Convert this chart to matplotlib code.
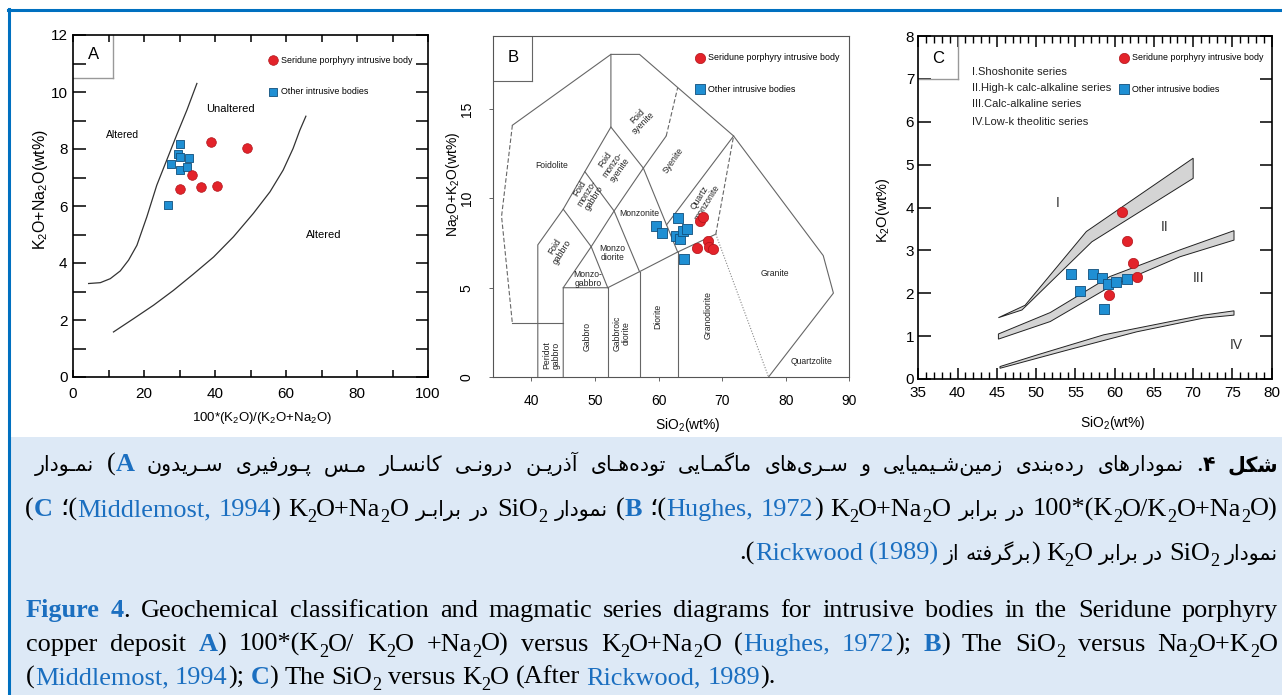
import matplotlib
matplotlib.use('Agg')
import matplotlib.pyplot as plt
from matplotlib.transforms import IdentityTransform
from matplotlib import font_manager as fm
from matplotlib.patches import Rectangle, Polygon
from matplotlib.lines import Line2D

# ---------------- DATA ----------------
# Panel A (Hughes, 1972)
a_red_x = [38.9, 48.9, 33.6, 30.2, 36.1, 40.5]
a_red_y = [8.25, 8.04, 7.10, 6.58, 6.67, 6.70]
a_blue_x = [30.2, 29.7, 27.6, 30.2, 32.7, 30.2, 32.1, 26.9]
a_blue_y = [8.17, 7.84, 7.49, 7.73, 7.67, 7.26, 7.38, 6.03]
a_left_x = [4.4, 7.7, 10.5, 13.3, 15.65, 18.0, 20.8, 23.6, 26.4, 29.2, 32.1, 34.9]
a_left_y = [3.28, 3.31, 3.45, 3.72, 4.10, 4.62, 5.62, 6.73, 7.61, 8.49, 9.37, 10.30]
a_right_x = [11.4, 17.1, 22.7, 28.3, 33.9, 39.6, 45.2, 50.8, 55.5, 59.2, 62.0, 63.9, 65.6]
a_right_y = [1.58, 2.05, 2.52, 3.04, 3.61, 4.21, 4.92, 5.74, 6.50, 7.26, 8.02, 8.66, 9.15]
a_xticks = list(range(0, 101, 10))
a_xlabels = ['0', '', '20', '', '40', '', '60', '', '80', '', '100']
a_yticks = list(range(0, 13))
a_ylabels = [str(v) if v % 2 == 0 else '' for v in a_yticks]

# Panel B (Middlemost, 1994)
b_red_x = [66.5, 67.0, 66.1, 67.7, 67.9, 68.5]
b_red_y = [8.71, 8.95, 7.21, 7.64, 7.30, 7.15]
b_blue_x = [59.6, 60.5, 63.0, 62.7, 63.4, 63.9, 64.5, 64.0]
b_blue_y = [8.43, 8.09, 8.93, 7.90, 7.72, 8.15, 8.28, 6.59]
b_solid = [
    [(37, 14.1), (52.5, 18.07), (57, 18.07), (71.8, 13.5), (85.9, 6.8), (87.5, 4.7), (77.3, 0)],
    [(37, 3), (45, 3)],
    [(41, 0), (41, 7.4), (45, 9.4), (48.4, 11.5), (52.5, 14), (52.5, 18.07)],
    [(45, 0), (45, 5), (52, 5), (57, 5.9), (63, 7), (69, 8)],
    [(52, 0), (52, 5)],
    [(57, 0), (57, 5.9)],
    [(63, 0), (63, 7)],
    [(45, 5), (49.4, 7.3), (45, 9.4)],
    [(49.4, 7.3), (52, 5)],
    [(48.4, 11.5), (53, 9.3), (57, 5.9)],
    [(49.4, 7.3), (53, 9.3), (57.6, 11.7)],
    [(52.5, 14), (57.6, 11.7), (63, 7)],
    [(61.25, 8.52), (71.8, 13.5)],
    [(57.6, 11.7), (61.2, 13.5)],
]
b_dashed = [
    [(37, 14.1), (35.3, 9.0), (37, 3)],
    [(61.2, 13.5), (63.0, 16.2)],
    [(69, 8), (71.8, 13.5)],
]
b_dotted = [[(69, 8), (77.3, 0)]]
b_labels = [
    ('Foidolite', 43.15, 11.85, 0),
    ('Foid\ngabbro', 44.2, 7.15, 58),
    ('Foid\nmonzo-\ngabbro', 48.7, 10.3, 58),
    ('Foid\nmonzo-\nsyenite', 52.7, 11.9, 55),
    ('Foid\nsyenite', 57.1, 14.4, 45),
    ('Syenite', 62.3, 12.1, 55),
    ('Monzonite', 56.95, 9.14, 0),
    ('Quartz\nmonzonite', 67.0, 9.9, 58),
    ('Monzo\ndiorite', 52.75, 6.93, 0),
    ('Monzo-\ngabbro', 48.9, 5.5, 0),
    ('Peridot\ngabbro', 43.1, 1.2, 90),
    ('Gabbro', 48.8, 2.25, 90),
    ('Gabbroic\ndiorite', 54.2, 2.45, 90),
    ('Diorite', 59.9, 3.4, 90),
    ('Granodiorite', 67.8, 3.45, 90),
    ('Granite', 78.3, 5.8, 0),
    ('Quartzolite', 84.1, 0.85, 0),
]
b_xticks = [40, 50, 60, 70, 80, 90]
b_yticks = [0, 5, 10, 15]

# Panel C (Rickwood, 1989)
c_red_x = [60.9, 61.6, 62.3, 62.9, 59.3]
c_red_y = [3.90, 3.23, 2.70, 2.39, 1.96]
c_blue_x = [54.4, 55.6, 57.3, 58.4, 59.2, 60.2, 61.6, 58.7]
c_blue_y = [2.46, 2.05, 2.45, 2.35, 2.21, 2.27, 2.33, 1.63]
c_b1_up_x = [45.2, 48.6, 56.4, 70.0]
c_b1_up_y = [1.43, 1.72, 3.44, 5.15]
c_b1_lo_x = [45.2, 48.2, 57.1, 70.0]
c_b1_lo_y = [1.43, 1.61, 3.20, 4.68]
c_b2_up_x = [45.2, 51.8, 59.4, 68.3, 75.2]
c_b2_up_y = [1.05, 1.55, 2.39, 3.01, 3.46]
c_b2_lo_x = [45.2, 51.8, 59.4, 68.3, 75.2]
c_b2_lo_y = [0.93, 1.34, 2.15, 2.85, 3.24]
c_b3_up_x = [45.4, 50.1, 58.6, 67.1, 71.3, 75.2]
c_b3_up_y = [0.29, 0.56, 1.03, 1.34, 1.49, 1.59]
c_b3_lo_x = [45.4, 54.3, 62.8, 71.3, 75.2]
c_b3_lo_y = [0.25, 0.69, 1.10, 1.42, 1.49]
c_series = ['I.Shoshonite series', 'II.High-k calc-alkaline series',
            'III.Calc-alkaline series', 'IV.Low-k theolitic series']
c_xticks = list(range(35, 81, 5))
c_yticks = list(range(0, 9))

legend_labels = ['Seridune porphyry intrusive body', 'Other intrusive bodies']

# ---------------- STYLE ----------------
RED = '#e3232a'
RED_E = '#b0141a'
BLU = '#1f8fd3'
BLU_E = '#114f7c'
FRAME = '#0070c0'
REF = '#1b6fc0'
CAPBG = '#dde9f6'

names = {f.name for f in fm.fontManager.ttflist}
if 'Liberation Sans Narrow' in names:
    NAR = dict(family='Liberation Sans Narrow')
    NS = 1.2
else:
    NAR = dict(family='Liberation Sans')
    NS = 1.0

plt.rcParams['mathtext.default'] = 'regular'
plt.rcParams['font.family'] = NAR['family']

W, H = 1282, 695
fig = plt.figure(figsize=(W / 100, H / 100), dpi=100)
fig.patch.set_facecolor('white')
ID = IdentityTransform()

# caption background and frame
fig.patches.append(Rectangle((10, 0), W - 10, 258, transform=ID, facecolor=CAPBG, edgecolor='none', zorder=0))
fig.add_artist(Line2D([8, W], [685, 685], transform=ID, color=FRAME, lw=2.2))
fig.add_artist(Line2D([9, 9], [0, 686], transform=ID, color=FRAME, lw=2.2))


def ax_rect(x0, y0top, x1, y1top):
    return [x0 / W, (H - y1top) / H, (x1 - x0) / W, (y1top - y0top) / H]


def style_ticklabels(ax, size):
    for lab in ax.get_xticklabels() + ax.get_yticklabels():
        lab.set_family(NAR['family'])
        lab.set_fontsize(size)


def add_legend(ax, h1, h2, fx, fy):
    ax.legend([h1, h2], legend_labels, loc='upper left', bbox_to_anchor=(fx, fy),
              frameon=False, borderpad=0, borderaxespad=0, handlelength=1.2,
              handletextpad=0.3, labelspacing=2.55, scatterpoints=1,
              prop=dict(size=6.4 * NS, **NAR))


def figtext(x, ytop, s, **kw):
    fig.text(x, H - ytop, s, transform=ID, **kw)


# ---------------- PANEL A ----------------
axA = fig.add_axes(ax_rect(73, 35, 428, 377))
axA.set_xlim(0, 100)
axA.set_ylim(0, 12)
axA.plot(a_left_x, a_left_y, color='#333333', lw=0.9)
axA.plot(a_right_x, a_right_y, color='#333333', lw=0.9)
hA2 = axA.scatter(a_blue_x, a_blue_y, marker='s', s=38, c=BLU, edgecolors=BLU_E, linewidths=0.6, zorder=3)
hA1 = axA.scatter(a_red_x, a_red_y, marker='o', s=48, c=RED, edgecolors=RED_E, linewidths=0.5, zorder=4)
axA.set_xticks(a_xticks)
axA.set_xticklabels(a_xlabels)
axA.set_yticks(a_yticks)
axA.set_yticklabels(a_ylabels)
axA.tick_params(axis='x', direction='in', length=5, width=1.1, top=True, pad=7)
axA.tick_params(axis='y', direction='in', length=9, width=1.1, right=True, pad=4)
style_ticklabels(axA, 11)
for sp in axA.spines.values():
    sp.set_linewidth(1.2)
axA.plot([11.2, 11.2], [10.5, 12], color='#999999', lw=1)
axA.plot([0, 11.2], [10.5, 10.5], color='#999999', lw=1)
axA.text(5.8, 11.3, 'A', ha='center', va='center', fontsize=12, **NAR)
axA.text(13.9, 8.5, 'Altered', ha='center', va='center', fontsize=7.5 * NS, **NAR)
axA.text(44.3, 9.4, 'Unaltered', ha='center', va='center', fontsize=8 * NS, **NAR)
axA.text(70.5, 5.0, 'Altered', ha='center', va='center', fontsize=8 * NS, **NAR)
add_legend(axA, hA1, hA2, 0.548, 0.94)
figtext(40, 190, r'K$_2$O+Na$_2$O(wt%)', rotation=90, ha='center', va='center', fontsize=11.5, **NAR)
figtext(262, 418, r'100*(K$_2$O)/(K$_2$O+Na$_2$O)', ha='center', va='center', fontsize=9.5 * NS, **NAR)

# ---------------- PANEL B ----------------
axB = fig.add_axes(ax_rect(493.3, 36, 849.3, 377))
axB.set_xlim(34, 90)
axB.set_ylim(0, 19.1)
for seg in b_solid:
    axB.plot([p[0] for p in seg], [p[1] for p in seg], color='#666666', lw=0.8)
for seg in b_dashed:
    axB.plot([p[0] for p in seg], [p[1] for p in seg], color='#666666', lw=0.8, ls=(0, (4, 2)))
for seg in b_dotted:
    axB.plot([p[0] for p in seg], [p[1] for p in seg], color='#888888', lw=0.8, ls=(0, (1, 1.5)))
for txt, x, y, rot in b_labels:
    axB.text(x, y, txt, rotation=rot, ha='center', va='center', fontsize=6.2,
             linespacing=1.0, color='#222222', **NAR)
hB2 = axB.scatter(b_blue_x, b_blue_y, marker='s', s=45, c=BLU, edgecolors=BLU_E, linewidths=0.6, zorder=3)
hB1 = axB.scatter(b_red_x, b_red_y, marker='o', s=55, c=RED, edgecolors=RED_E, linewidths=0.5, zorder=4)
axB.set_xticks(b_xticks)
axB.set_yticks(b_yticks)
axB.tick_params(axis='both', direction='out', length=3, width=0.7, color='#666666', pad=9)
axB.tick_params(axis='y', pad=11)
style_ticklabels(axB, 10)
for lab in axB.get_yticklabels():
    lab.set_rotation(90)
    lab.set_va('center')
for sp in axB.spines.values():
    sp.set_linewidth(0.8)
    sp.set_color('#555555')
axB.plot([34, 40.14], [16.6, 16.6], color='#666666', lw=0.8)
axB.plot([40.14, 40.14], [16.6, 19.1], color='#666666', lw=0.8)
axB.text(37.05, 17.9, 'B', ha='center', va='center', fontsize=12, **NAR)
add_legend(axB, hB1, hB2, 0.566, 0.95)
figtext(453, 184, r'Na$_2$O+K$_2$O(wt%)', rotation=90, ha='center', va='center', fontsize=10, **NAR)
figtext(688, 425, r'SiO$_2$(wt%)', ha='center', va='center', fontsize=10, **NAR)

# ---------------- PANEL C ----------------
axC = fig.add_axes(ax_rect(918.3, 36, 1271.7, 379))
axC.set_xlim(35, 80)
axC.set_ylim(0, 8)
for ux, uy, lx, ly in [(c_b1_up_x, c_b1_up_y, c_b1_lo_x, c_b1_lo_y),
                       (c_b2_up_x, c_b2_up_y, c_b2_lo_x, c_b2_lo_y),
                       (c_b3_up_x, c_b3_up_y, c_b3_lo_x, c_b3_lo_y)]:
    pts = list(zip(ux, uy)) + list(zip(lx[::-1], ly[::-1]))
    axC.add_patch(Polygon(pts, closed=True, facecolor='#d4d4d4', edgecolor='#222222', lw=0.7))
hC2 = axC.scatter(c_blue_x, c_blue_y, marker='s', s=50, c=BLU, edgecolors=BLU_E, linewidths=0.6, zorder=3)
hC1 = axC.scatter(c_red_x, c_red_y, marker='o', s=55, c=RED, edgecolors=RED_E, linewidths=0.5, zorder=4)
axC.set_xticks(c_xticks)
axC.set_xticks(list(range(35, 81)), minor=True)
axC.set_yticks(c_yticks)
axC.tick_params(axis='x', which='major', direction='in', length=8, width=1.1, top=True, pad=5)
axC.tick_params(axis='x', which='minor', direction='in', length=5, width=1.0, top=True)
axC.tick_params(axis='y', direction='in', length=9, width=1.1, right=True, pad=3)
style_ticklabels(axC, 11)
for sp in axC.spines.values():
    sp.set_linewidth(1.2)
axC.plot([40.0, 40.0], [6.99, 8], color='#999999', lw=1)
axC.plot([35, 40.0], [6.99, 6.99], color='#999999', lw=1)
axC.text(37.5, 7.48, 'C', ha='center', va='center', fontsize=12, **NAR)
for i, s in enumerate(c_series):
    axC.text(41.8, [7.17, 6.78, 6.42, 6.0][i], s, ha='left', va='center', fontsize=8.0 * NS,
             color='#222222', **NAR)
axC.text(52.8, 4.1, 'I', ha='center', va='center', fontsize=10, color='#333333', **NAR)
axC.text(66.4, 3.55, 'II', ha='center', va='center', fontsize=10, color='#333333', **NAR)
axC.text(70.7, 2.35, 'III', ha='center', va='center', fontsize=10, color='#333333', **NAR)
axC.text(75.5, 0.79, 'IV', ha='center', va='center', fontsize=10, color='#333333', **NAR)
add_legend(axC, hC1, hC2, 0.566, 0.95)
figtext(883, 210, r'K$_2$O(wt%)', rotation=90, ha='center', va='center', fontsize=10.5, **NAR)
figtext(1113, 423, r'SiO$_2$(wt%)', ha='center', va='center', fontsize=10, **NAR)

# ---------------- CAPTIONS ----------------
_D = {'\u0628': 0xFE8F, '\u062A': 0xFE95, '\u062B': 0xFE99, '\u062C': 0xFE9D, '\u062D': 0xFEA1,
      '\u062E': 0xFEA5, '\u0633': 0xFEB1, '\u0634': 0xFEB5, '\u0635': 0xFEB9, '\u0636': 0xFEBD,
      '\u0637': 0xFEC1, '\u0638': 0xFEC5, '\u0639': 0xFEC9, '\u063A': 0xFECD, '\u0641': 0xFED1,
      '\u0642': 0xFED5, '\u0644': 0xFEDD, '\u0645': 0xFEE1, '\u0646': 0xFEE5, '\u0647': 0xFEE9,
      '\u0626': 0xFE89, '\u067E': 0xFB56, '\u0686': 0xFB7A, '\u06A9': 0xFB8E, '\u06AF': 0xFB92,
      '\u06CC': 0xFBFC}
_R = {'\u0627': 0xFE8D, '\u0622': 0xFE81, '\u062F': 0xFEA9, '\u0630': 0xFEAB, '\u0631': 0xFEAD,
      '\u0632': 0xFEAF, '\u0648': 0xFEED, '\u0698': 0xFB8A}
TATWEEL = '\u0640'


def shape(word):
    ch = list(word)
    out = []
    for i, c in enumerate(ch):
        if c in _D or c in _R:
            prev = ch[i - 1] if i > 0 else None
            nxt = ch[i + 1] if i + 1 < len(ch) else None
            pj = prev is not None and (prev in _D or prev == TATWEEL)
            nj = c in _D and nxt is not None and (nxt in _D or nxt in _R or nxt == TATWEEL)
            if c in _D:
                k = 3 if (pj and nj) else 1 if pj else 2 if nj else 0
                out.append(chr(_D[c] + k))
            else:
                out.append(chr(_R[c] + (1 if pj else 0)))
        elif c == '\u200c':
            continue
        else:
            out.append(c)
    return ''.join(reversed(out))


def Lr(t, c='black', b=False):
    return dict(t=t, c=c, b=b, fa=False, sub=False)


def Fr(t, b=False):
    return dict(t=shape(t), c='black', b=b, fa=True, sub=False)


def Sr(t='2'):
    return dict(t=t, c='black', b=False, fa=False, sub=True)


def words_en(s):
    return [[Lr(w)] for w in s.split()]


K2O = [Lr('K'), Sr(), Lr('O')]
SIO2 = [Lr('SiO'), Sr()]
K2ONA2O = [Lr('K'), Sr(), Lr('O+Na'), Sr(), Lr('O')]

en1 = [[Lr('Figure', REF, True)], [Lr('4', REF, True), Lr('.')]] + words_en(
    'Geochemical classification and magmatic series diagrams for intrusive bodies in the Seridune porphyry')
en2 = words_en('copper deposit') + [[Lr('A', REF, True), Lr(')')],
                                    [Lr('100*(K'), Sr(), Lr('O/')], [Lr('K'), Sr(), Lr('O')],
                                    [Lr('+Na'), Sr(), Lr('O)')], [Lr('versus')], K2ONA2O,
                                    [Lr('('), Lr('Hughes,', REF)], [Lr('1972', REF), Lr(');')],
                                    [Lr('B', REF, True), Lr(')')], [Lr('The')], SIO2, [Lr('versus')],
                                    [Lr('Na'), Sr(), Lr('O+K'), Sr(), Lr('O')]]
en3 = [[Lr('('), Lr('Middlemost,', REF)], [Lr('1994', REF), Lr(');')], [Lr('C', REF, True), Lr(')')],
       [Lr('The')], SIO2, [Lr('versus')], K2O, [Lr('(After')], [Lr('Rickwood,', REF)],
       [Lr('1989', REF), Lr(').')]]

fa1 = [[Fr('نمـودار')], [Lr('('), Lr('A', REF, True)], [Fr('سـریدون')], [Fr('پـورفیری')], [Fr('مـس')],
       [Fr('کانسـار')], [Fr('درونـی')], [Fr('آذریـن')], [Fr('توده\u200cهـای')], [Fr('ماگمـایی')],
       [Fr('سـری\u200cهای')], [Fr('و')], [Fr('زمین\u200cشـیمیایی')], [Fr('رده\u200cبندی')],
       [Fr('نمودارهای')], [Lr('.'), Fr('۴', True)], [Fr('شکل', True)]]
fa2 = [[Lr('('), Lr('C', REF, True)], [Lr('\u061B('), Lr('Middlemost,', REF)], [Lr('1994', REF), Lr(')')],
       K2ONA2O, [Fr('برابـر')], [Fr('در')], SIO2, [Fr('نمودار')], [Lr('('), Lr('B', REF, True)],
       [Lr('\u061B('), Lr('Hughes,', REF)], [Lr('1972', REF), Lr(')')], K2ONA2O, [Fr('برابر')],
       [Fr('در')], [Lr('100*(K'), Sr(), Lr('O/K'), Sr(), Lr('O+Na'), Sr(), Lr('O)')]]
fa3 = [[Lr('.('), Lr('Rickwood', REF)], [Lr('(1989)', REF)], [Fr('از')], [Fr('برگرفته'), Lr(')')],
       K2O, [Fr('برابر')], [Fr('در')], SIO2, [Fr('نمودار')]]

renderer = fig.canvas.get_renderer()
LAT_FAM = ['Liberation Serif', 'DejaVu Sans']
FA_FAM = ['DejaVu Sans']


def make_text(run, fs_lat, fs_fa):
    fs = fs_fa if run['fa'] else fs_lat
    if run['sub']:
        fs = fs * 0.7
    t = fig.text(0, 0, run['t'], transform=ID, fontsize=fs, color=run['c'],
                 fontweight='bold' if run['b'] else 'normal',
                 family=FA_FAM if run['fa'] else LAT_FAM, ha='left', va='baseline')
    w = t.get_window_extent(renderer).width
    return t, w


def measure(words, fs_lat, fs_fa, which='all'):
    tot = 0.0
    for wd in words:
        for r in wd:
            if which == 'fa' and not r['fa']:
                continue
            if which == 'lat' and r['fa']:
                continue
            t, w = make_text(r, fs_lat, fs_fa)
            tot += w
            t.remove()
    return tot


SP_LAT = 0.25 * 100 / 72
SP_FA = 0.28 * 100 / 72

w0 = measure(en3, 16, 16)
EN_FS = 16 * (749.0) / (w0 + (len(en3) - 1) * SP_LAT * 16)
wl = measure(fa3, EN_FS, 14, 'lat')
wf = measure(fa3, EN_FS, 14, 'fa')
FA_FS = (540.0 - wl) / (wf / 14 + (len(fa3) - 1) * SP_FA)
FA_FS = max(10.0, min(FA_FS, 20.0))


def draw_line(words, ybase_top, x0, x1, mode, fs_lat, fs_fa, sp):
    arts = []
    tot = 0.0
    for wd in words:
        lst = []
        for r in wd:
            t, w = make_text(r, fs_lat, fs_fa)
            lst.append((t, w, r))
            tot += w
        arts.append(lst)
    n = len(words)
    if mode == 'justify':
        gap = (x1 - x0 - tot) / (n - 1)
        x = x0
    elif mode == 'right':
        gap = sp
        x = x1 - tot - gap * (n - 1)
    else:
        gap = sp
        x = x0
    yb = H - ybase_top
    for lst in arts:
        for t, w, r in lst:
            fs = fs_fa if r['fa'] else fs_lat
            dy = -0.22 * fs * 100 / 72 if r['sub'] else 0
            t.set_position((x, yb + dy))
            x += w
        x += gap


draw_line(fa1, 471, 35, 1278, 'justify', EN_FS, FA_FS, SP_FA * FA_FS)
draw_line(fa2, 516, 25, 1278, 'justify', EN_FS, FA_FS, SP_FA * FA_FS)
draw_line(fa3, 560, 738, 1278, 'right', EN_FS, FA_FS, SP_FA * FA_FS)
draw_line(en1, 617, 26, 1278, 'justify', EN_FS, FA_FS, SP_LAT * EN_FS)
draw_line(en2, 651, 26, 1278, 'justify', EN_FS, FA_FS, SP_LAT * EN_FS)
draw_line(en3, 684, 26, 1278, 'left', EN_FS, FA_FS, SP_LAT * EN_FS)

fig.savefig('out.png', dpi=100, facecolor='white')
